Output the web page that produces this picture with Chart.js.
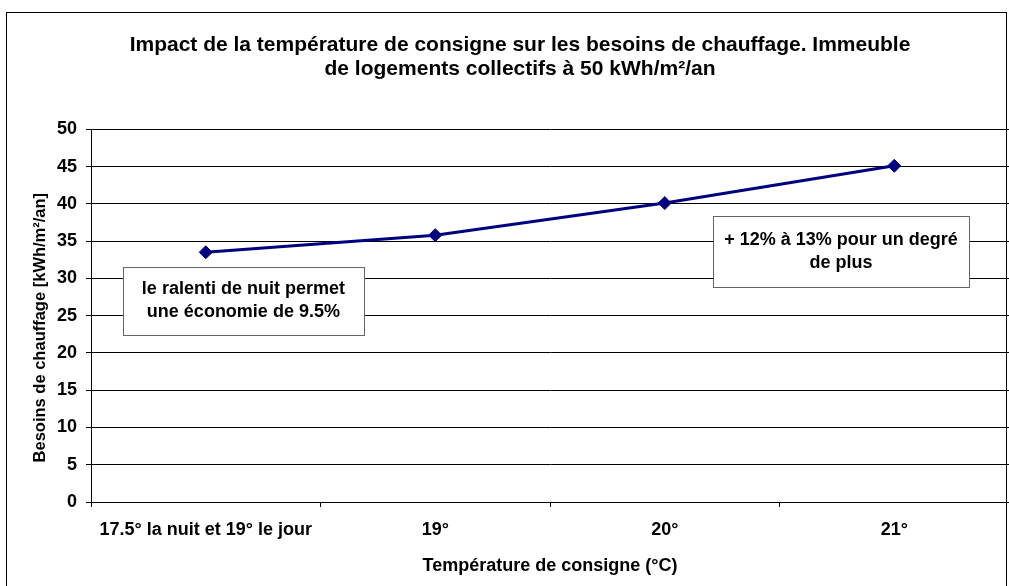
<!DOCTYPE html>
<html>
<head>
<meta charset="utf-8">
<script src="https://cdn.jsdelivr.net/npm/chart.js@4.4.0/dist/chart.umd.min.js"></script>
<style>
  html, body { margin: 0; padding: 0; background: #ffffff; overflow: hidden; }
  #wrap { width: 1009px; height: 586px; position: relative; }
</style>
</head>
<body>
<div id="wrap"><canvas id="c" width="1009" height="586"></canvas></div>
<script>
// ---- data ----
const categories = ['17.5° la nuit et 19° le jour', '19°', '20°', '21°'];
const besoins = [33.5, 35.8, 40.1, 45.1];
const yMin = 0;
const yMax = 50;
const yStep = 5;
const chartTitle = ['Impact de la température de consigne sur les besoins de chauffage. Immeuble', 'de logements collectifs à 50 kWh/m²/an'];
const xTitle = 'Température de consigne (°C)';
const yTitle = 'Besoins de chauffage [kWh/m²/an]';
const note1 = ['le ralenti de nuit permet', 'une économie de 9.5%'];
const note2 = ['+ 12% à 13% pour un degré', 'de plus'];

const FONT = 'Arial, "Liberation Sans", Helvetica, sans-serif';

const framePlugin = {
  id: 'frame',
  beforeDraw(chart) {
    const ctx = chart.ctx;
    ctx.save();
    ctx.fillStyle = '#ffffff';
    ctx.fillRect(0, 0, chart.width, chart.height);
    ctx.strokeStyle = '#000000';
    ctx.lineWidth = 1;
    ctx.strokeRect(6.5, 12.5, 1000, 600);
    ctx.restore();
  }
};

const yTitlePlugin = {
  id: 'yTitle',
  afterDraw(chart, args, opts) {
    const ctx = chart.ctx;
    const a = chart.chartArea;
    ctx.save();
    ctx.translate(opts.x, (a.top + a.bottom) / 2 + opts.shift);
    ctx.rotate(-Math.PI / 2);
    ctx.fillStyle = '#000000';
    ctx.font = 'bold 16.5px ' + FONT;
    ctx.textAlign = 'center';
    ctx.textBaseline = 'middle';
    ctx.fillText(opts.text, 0, 0);
    ctx.restore();
  }
};

const notesPlugin = {
  id: 'notes',
  afterDatasetsDraw(chart, args, opts) {
    const ctx = chart.ctx;
    const xs = chart.scales.x, ys = chart.scales.y;
    ctx.save();
    for (const n of opts.items) {
      const cx = xs.getPixelForValue(n.xIndex);
      const cy = ys.getPixelForValue(n.yValue);
      const left = Math.round(cx - n.w / 2) + 0.5;
      const top = Math.round(cy - n.h / 2) + 0.5;
      ctx.fillStyle = '#ffffff';
      ctx.fillRect(left, top, n.w, n.h);
      ctx.strokeStyle = '#666666';
      ctx.lineWidth = 1;
      ctx.strokeRect(left, top, n.w, n.h);
      ctx.fillStyle = '#000000';
      ctx.font = 'bold 18px ' + FONT;
      ctx.textAlign = 'center';
      ctx.textBaseline = 'middle';
      const lh = 23;
      const start = cy - (n.text.length - 1) * lh / 2;
      n.text.forEach((t, i) => ctx.fillText(t, cx, start + i * lh));
    }
    ctx.restore();
  }
};

new Chart(document.getElementById('c'), {
  type: 'line',
  data: {
    labels: categories,
    datasets: [{
      data: besoins,
      borderColor: '#000080',
      backgroundColor: '#000080',
      borderWidth: 3,
      pointStyle: 'rectRot',
      pointRadius: 6.5,
      pointHoverRadius: 6.5,
      pointBackgroundColor: '#000080',
      pointBorderColor: '#000080',
      pointBorderWidth: 1,
      tension: 0,
      fill: false,
      clip: false
    }]
  },
  options: {
    responsive: false,
    animation: false,
    events: [],
    layout: { autoPadding: false, padding: { left: 31, right: 0, top: 0, bottom: 0 } },
    plugins: {
      legend: { display: false },
      tooltip: { enabled: false },
      title: {
        display: true,
        text: chartTitle,
        color: '#000000',
        font: { family: FONT, size: 21, weight: 'bold', lineHeight: 1.15 },
        padding: { top: 33, bottom: 48 }
      },
      yTitle: { text: yTitle, x: 40, shift: 12 },
      notes: {
        items: [
          { text: note1, xIndex: 0.164, yValue: 27.0, w: 241, h: 68 },
          { text: note2, xIndex: 2.768, yValue: 33.6, w: 256, h: 71 }
        ]
      }
    },
    scales: {
      x: {
        type: 'category',
        offset: true,
        grid: { display: true, drawOnChartArea: false, drawTicks: true, tickLength: 5, offset: true, color: '#000000' },
        border: { display: true, color: '#000000', width: 1 },
        ticks: { color: '#000000', font: { family: FONT, size: 18, weight: 'bold' }, padding: 12, maxRotation: 0, autoSkip: false },
        title: { display: true, text: xTitle, color: '#000000', font: { family: FONT, size: 18, weight: 'bold' }, padding: { top: 15, bottom: 9 } },
        afterFit(s) { s.height = 84; s.paddingLeft = 0; s.paddingRight = 0; }
      },
      y: {
        min: yMin,
        max: yMax,
        grid: { color: '#000000', tickLength: 5, drawTicks: true },
        border: { display: true, color: '#000000', width: 1 },
        ticks: { stepSize: yStep, color: '#000000', font: { family: FONT, size: 18, weight: 'bold' }, padding: 9 },
        title: { display: false },
        afterFit(s) { s.width = 60; s.paddingTop = 0; s.paddingBottom = 0; }
      }
    }
  },
  plugins: [framePlugin, yTitlePlugin, notesPlugin]
});
</script>
</body>
</html>
